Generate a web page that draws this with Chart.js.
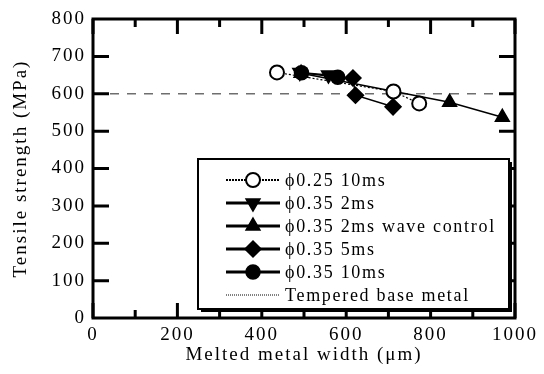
<!DOCTYPE html>
<html>
<head>
<meta charset="utf-8">
<script src="https://cdn.jsdelivr.net/npm/chart.js@4/dist/chart.umd.min.js"></script>
<style>
  html, body { margin: 0; padding: 0; background: #fff; }
  #wrap { width: 544px; height: 374px; }
</style>
</head>
<body>
<div id="wrap"><canvas id="c" width="544" height="374"></canvas></div>
<script>
// values (x = melted width in um, y = tensile strength in MPa)
const d025_10ms_x = [436, 712, 773];
const d025_10ms_y = [657, 606, 574];
const d035_2ms_x = [490, 558];
const d035_2ms_y = [657, 650];
const d035_2msWave_x = [493, 845, 970];
const d035_2msWave_y = [655, 577, 537];
const d035_5ms_x = [616, 622, 711];
const d035_5ms_y = [642, 596, 565];
const d035_10ms_x = [494, 580];
const d035_10ms_y = [656, 644];
const baseMetal_x = [0, 1000];
const baseMetal_y = [600, 600];

const seriesLabels = ['\u03d50.25 10ms', '\u03d50.35 2ms', '\u03d50.35 2ms wave control',
                      '\u03d50.35 5ms', '\u03d50.35 10ms', 'Tempered base metal'];
const xTicksMajor = [0, 200, 400, 600, 800, 1000];
const xTicksMinor = [100, 300, 500, 700, 900];
const yTicks = [100, 200, 300, 400, 500, 600, 700];

const SERIF = '"Liberation Serif", "Times New Roman", serif';

function pts(xs, ys) {
    return xs.map((x, i) => ({ x: x, y: ys[i] }));
}

// the scanned figure has widely spaced lettering
const spacing = {
    id: 'spacing',
    beforeLayout(chart) { chart.ctx.letterSpacing = '2px'; },
    beforeDraw(chart) { chart.ctx.letterSpacing = '2px'; }
};

// frame + inward ticks on all four sides
const frameTicks = {
    id: 'frameTicks',
    afterDatasetsDraw(chart) {
        const ctx = chart.ctx;
        const a = chart.chartArea;
        const xs = chart.scales.x, ys = chart.scales.y;
        ctx.save();
        ctx.strokeStyle = '#000';
        ctx.lineWidth = 3;
        ctx.lineCap = 'butt';
        ctx.beginPath();
        xTicksMajor.concat(xTicksMinor).forEach(v => {
            const px = xs.getPixelForValue(v);
            const len = xTicksMajor.includes(v) ? 15 : 8;
            ctx.moveTo(px, a.bottom); ctx.lineTo(px, a.bottom - len);
            ctx.moveTo(px, a.top); ctx.lineTo(px, a.top + len);
        });
        yTicks.forEach(v => {
            const py = ys.getPixelForValue(v);
            ctx.moveTo(a.left, py); ctx.lineTo(a.left + 16, py);
            ctx.moveTo(a.right, py); ctx.lineTo(a.right - 16, py);
        });
        ctx.stroke();
        ctx.strokeRect(a.left, a.top, a.right - a.left, a.bottom - a.top);
        ctx.restore();
    }
};

// legend box drawn inside the plot area
const boxLegend = {
    id: 'boxLegend',
    afterDraw(chart) {
        const ctx = chart.ctx;
        const bx = 198, by = 159, bw = 311, bh = 150;
        ctx.save();
        ctx.fillStyle = '#000';
        ctx.fillRect(bx + 3, by + 3, bw, bh);
        ctx.fillStyle = '#fff';
        ctx.fillRect(bx, by, bw, bh);
        ctx.strokeStyle = '#000';
        ctx.lineWidth = 2;
        ctx.strokeRect(bx, by, bw, bh);

        ctx.font = '18px ' + SERIF;
        ctx.letterSpacing = '1.7px';
        ctx.textBaseline = 'middle';
        const x0 = 226, x1 = 280, tx = 285;
        chart.data.datasets.forEach((ds, i) => {
            const y = 180 + i * 23;
            ctx.save();
            ctx.strokeStyle = '#000';
            ctx.lineWidth = ds.legendLine;
            ctx.setLineDash(ds.legendDash);
            ctx.beginPath();
            ctx.moveTo(x0, y); ctx.lineTo(x1, y);
            ctx.stroke();
            ctx.restore();
            if (ds.pointRadius > 0) {
                ctx.save();
                ctx.fillStyle = ds.pointBackgroundColor;
                ctx.strokeStyle = '#000';
                ctx.lineWidth = ds.pointBorderWidth;
                Chart.helpers.drawPoint(ctx, {
                    pointStyle: ds.pointStyle,
                    radius: ds.pointRadius,
                    rotation: ds.pointRotation || 0,
                    borderWidth: ds.pointBorderWidth
                }, (x0 + x1) / 2, y);
                ctx.restore();
            }
            ctx.fillStyle = '#000';
            ctx.fillText(seriesLabels[i], tx, y + 1);
        });
        ctx.restore();
    }
};

function markerSeries(label, xs, ys, style, fill, opts) {
    return Object.assign({
        label: label,
        data: pts(xs, ys),
        showLine: true,
        borderColor: '#000',
        borderWidth: 1.5,
        pointStyle: style,
        pointRadius: 7,
        pointHoverRadius: 7,
        pointBackgroundColor: fill,
        pointBorderColor: '#000',
        pointBorderWidth: 1.5,
        legendLine: 3,
        legendDash: []
    }, opts || {});
}

const datasets = [
    markerSeries(seriesLabels[0], d025_10ms_x, d025_10ms_y, 'circle', '#fff',
        { borderDash: [2, 2], borderWidth: 1.2, pointBorderWidth: 2, legendLine: 2, legendDash: [2, 1] }),
    markerSeries(seriesLabels[1], d035_2ms_x, d035_2ms_y, 'triangle', '#000',
        { pointRotation: 180, pointRadius: 8 }),
    markerSeries(seriesLabels[2], d035_2msWave_x, d035_2msWave_y, 'triangle', '#000',
        { pointRadius: 8 }),
    markerSeries(seriesLabels[3], d035_5ms_x, d035_5ms_y, 'rectRot', '#000',
        { pointRadius: 8 }),
    markerSeries(seriesLabels[4], d035_10ms_x, d035_10ms_y, 'circle', '#000'),
    {
        label: seriesLabels[5],
        data: pts(baseMetal_x, baseMetal_y),
        showLine: true,
        borderColor: '#6e6e6e',
        borderWidth: 1.5,
        borderDash: [9, 8],
        pointRadius: 0,
        pointBorderWidth: 0,
        legendLine: 1,
        legendDash: [1, 1],
        order: 10
    }
];

new Chart(document.getElementById('c'), {
    type: 'scatter',
    data: { datasets: datasets },
    plugins: [spacing, frameTicks, boxLegend],
    options: {
        responsive: false,
        animation: false,
        events: [],
        layout: { padding: { top: 19, right: 29, left: 10, bottom: 8 } },
        plugins: { legend: { display: false }, tooltip: { enabled: false } },
        scales: {
            x: {
                type: 'linear',
                min: 0, max: 1000,
                afterFit: s => { s.height = 48; },
                afterBuildTicks: s => { s.ticks = xTicksMajor.map(v => ({ value: v })); },
                grid: { display: false, drawTicks: false },
                border: { display: false },
                ticks: {
                    color: '#000', padding: 6, maxRotation: 0,
                    font: { family: SERIF, size: 19 },
                    callback: v => String(v)
                },
                title: {
                    display: true,
                    text: 'Melted metal width (\u03bcm)',
                    color: '#000',
                    padding: { top: 0, bottom: 0 },
                    font: { family: SERIF, size: 19 }
                }
            },
            y: {
                min: 0, max: 800,
                afterFit: s => { s.width = 83; },
                ticks: {
                    stepSize: 100, color: '#000', padding: 7,
                    font: { family: SERIF, size: 19 },
                    callback: v => String(v)
                },
                grid: { display: false, drawTicks: false },
                border: { display: false },
                title: {
                    display: true,
                    text: 'Tensile strength (MPa)',
                    color: '#000',
                    padding: { top: 0, bottom: 0 },
                    font: { family: SERIF, size: 19 }
                }
            }
        }
    }
});
</script>
</body>
</html>
